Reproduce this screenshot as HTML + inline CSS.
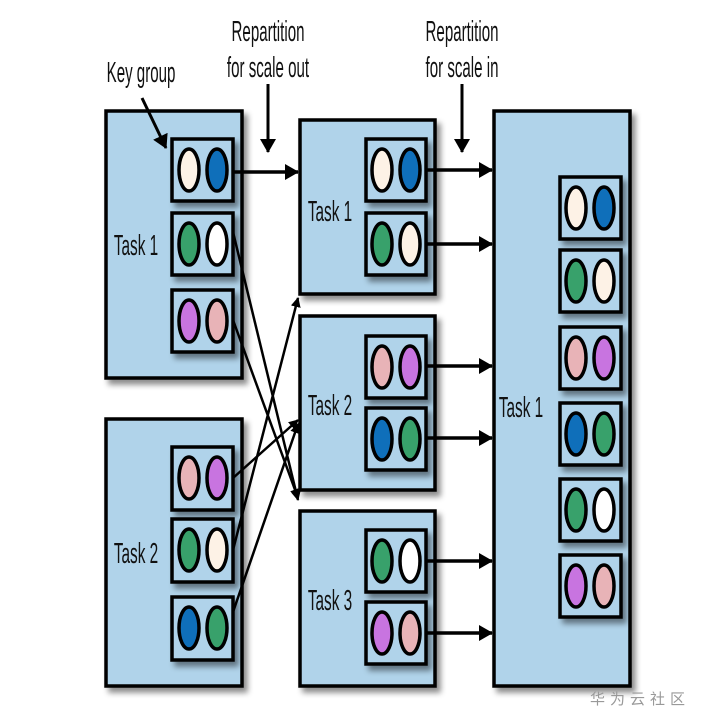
<!DOCTYPE html>
<html><head><meta charset="utf-8"><style>
body{margin:0;background:#fff}
svg{display:block}
text{font-family:"Liberation Sans",sans-serif;fill:#111}
</style></head><body>
<svg width="711" height="723" viewBox="0 0 711 723" xmlns="http://www.w3.org/2000/svg">
<defs>
<filter id="sh" x="-10%" y="-10%" width="130%" height="130%"><feDropShadow dx="4" dy="5" stdDeviation="3" flood-color="#000" flood-opacity="0.45"/></filter>
<marker id="ah" markerWidth="10" markerHeight="10" refX="9" refY="5" orient="auto" markerUnits="userSpaceOnUse" viewBox="0 0 10 10"><path d="M0,0 L10,5 L0,10 z" fill="#000"/></marker>
<marker id="ab" markerWidth="14" markerHeight="16" refX="13" refY="8" orient="auto" markerUnits="userSpaceOnUse" viewBox="0 0 14 16"><path d="M0,0 L14,8 L0,16 z" fill="#000"/></marker>
</defs>
<g fill="#b0d3ea" stroke="#000" stroke-width="3.5" filter="url(#sh)">
<rect x="106" y="111" width="136" height="267"/>
<rect x="106" y="419" width="136" height="267"/>
<rect x="300" y="120" width="135" height="174"/>
<rect x="300" y="316" width="135" height="174"/>
<rect x="300" y="511" width="135" height="175"/>
<rect x="494" y="111" width="136" height="575"/>
</g>
<g stroke="#000" stroke-width="2.5" fill="none">
<line x1="233" y1="232" x2="298" y2="500" marker-end="url(#ah)"/>
<line x1="233" y1="320" x2="298" y2="498" marker-end="url(#ah)"/>
<line x1="233" y1="478" x2="298" y2="420" marker-end="url(#ah)"/>
<line x1="233" y1="550" x2="298" y2="298" marker-end="url(#ah)"/>
<line x1="233" y1="612" x2="298" y2="424" marker-end="url(#ah)"/>
</g>
<g stroke="#000" stroke-width="3.5">
<line x1="233" y1="172" x2="298" y2="172" marker-end="url(#ab)"/>
<line x1="426" y1="170" x2="492" y2="170" marker-end="url(#ab)"/>
<line x1="426" y1="244" x2="492" y2="244" marker-end="url(#ab)"/>
<line x1="426" y1="366" x2="492" y2="366" marker-end="url(#ab)"/>
<line x1="426" y1="438" x2="492" y2="438" marker-end="url(#ab)"/>
<line x1="426" y1="561" x2="492" y2="561" marker-end="url(#ab)"/>
<line x1="426" y1="633" x2="492" y2="633" marker-end="url(#ab)"/>
<line x1="268" y1="84" x2="268" y2="152" marker-end="url(#ab)" stroke-width="3"/>
<line x1="462" y1="84" x2="462" y2="152" marker-end="url(#ab)" stroke-width="3"/>
<line x1="142" y1="98" x2="166" y2="148" marker-end="url(#ab)" stroke-width="3"/>
</g>
<g fill="#b0d3ea" stroke="#000" stroke-width="3.5" filter="url(#sh)">
<rect x="172" y="139" width="61" height="62"/><rect x="172" y="213" width="61" height="62"/><rect x="172" y="290" width="61" height="62"/>
<rect x="172" y="447" width="61" height="63"/><rect x="172" y="519" width="61" height="63"/><rect x="172" y="597" width="61" height="63"/>
<rect x="366" y="139" width="60" height="62"/><rect x="366" y="213" width="60" height="62"/>
<rect x="366" y="336" width="60" height="62"/><rect x="366" y="408" width="60" height="62"/>
<rect x="366" y="530" width="60" height="62"/><rect x="366" y="602" width="60" height="62"/>
<rect x="560" y="177" width="61" height="62"/><rect x="560" y="250" width="61" height="62"/><rect x="560" y="327" width="61" height="62"/>
<rect x="560" y="403" width="61" height="62"/><rect x="560" y="479" width="61" height="62"/><rect x="560" y="555" width="61" height="62"/>
</g>
<g stroke="#000" stroke-width="3.5">
<ellipse cx="189" cy="170" rx="10" ry="21" fill="#fdf2e6"/><ellipse cx="217" cy="170" rx="10" ry="21" fill="#0f6fba"/>
<ellipse cx="189" cy="244" rx="10" ry="21" fill="#38a16b"/><ellipse cx="217" cy="244" rx="10" ry="21" fill="#fff"/>
<ellipse cx="189" cy="321" rx="10" ry="21" fill="#c874e0"/><ellipse cx="217" cy="321" rx="10" ry="21" fill="#e8b3b7"/>
<ellipse cx="189" cy="478" rx="10" ry="21" fill="#e8b3b7"/><ellipse cx="217" cy="478" rx="10" ry="21" fill="#c874e0"/>
<ellipse cx="189" cy="550" rx="10" ry="21" fill="#38a16b"/><ellipse cx="217" cy="550" rx="10" ry="21" fill="#fdf2e6"/>
<ellipse cx="189" cy="628" rx="10" ry="21" fill="#0f6fba"/><ellipse cx="217" cy="628" rx="10" ry="21" fill="#38a16b"/>
<ellipse cx="382" cy="170" rx="10" ry="21" fill="#fdf2e6"/><ellipse cx="410" cy="170" rx="10" ry="21" fill="#0f6fba"/>
<ellipse cx="382" cy="244" rx="10" ry="21" fill="#38a16b"/><ellipse cx="410" cy="244" rx="10" ry="21" fill="#fdf2e6"/>
<ellipse cx="382" cy="367" rx="10" ry="21" fill="#e8b3b7"/><ellipse cx="410" cy="367" rx="10" ry="21" fill="#c874e0"/>
<ellipse cx="382" cy="439" rx="10" ry="21" fill="#0f6fba"/><ellipse cx="410" cy="439" rx="10" ry="21" fill="#38a16b"/>
<ellipse cx="382" cy="561" rx="10" ry="21" fill="#38a16b"/><ellipse cx="410" cy="561" rx="10" ry="21" fill="#fff"/>
<ellipse cx="382" cy="633" rx="10" ry="21" fill="#c874e0"/><ellipse cx="410" cy="633" rx="10" ry="21" fill="#e8b3b7"/>
<ellipse cx="576" cy="208" rx="10" ry="21" fill="#fdf2e6"/><ellipse cx="604" cy="208" rx="10" ry="21" fill="#0f6fba"/>
<ellipse cx="576" cy="281" rx="10" ry="21" fill="#38a16b"/><ellipse cx="604" cy="281" rx="10" ry="21" fill="#fdf2e6"/>
<ellipse cx="576" cy="358" rx="10" ry="21" fill="#e8b3b7"/><ellipse cx="604" cy="358" rx="10" ry="21" fill="#c874e0"/>
<ellipse cx="576" cy="434" rx="10" ry="21" fill="#0f6fba"/><ellipse cx="604" cy="434" rx="10" ry="21" fill="#38a16b"/>
<ellipse cx="576" cy="510" rx="10" ry="21" fill="#38a16b"/><ellipse cx="604" cy="510" rx="10" ry="21" fill="#fff"/>
<ellipse cx="576" cy="586" rx="10" ry="21" fill="#c874e0"/><ellipse cx="604" cy="586" rx="10" ry="21" fill="#e8b3b7"/>
</g>
<g font-size="29" text-anchor="middle">
<text transform="translate(136,255) scale(0.53,1)">Task 1</text>
<text transform="translate(136,563) scale(0.53,1)">Task 2</text>
<text transform="translate(330,221) scale(0.53,1)">Task 1</text>
<text transform="translate(330,415) scale(0.53,1)">Task 2</text>
<text transform="translate(330,610) scale(0.53,1)">Task 3</text>
<text transform="translate(521,417) scale(0.53,1)">Task 1</text>
<text transform="translate(141,82) scale(0.52,1)">Key group</text>
<text transform="translate(268,41) scale(0.52,1)">Repartition</text>
<text transform="translate(268,77) scale(0.52,1)">for scale out</text>
<text transform="translate(462,41) scale(0.52,1)">Repartition</text>
<text transform="translate(462,77) scale(0.52,1)">for scale in</text>
</g>
<text x="590" y="704" font-size="15" letter-spacing="5" style="font-family:'Noto Sans CJK SC',sans-serif;fill:#999">华为云社区</text>
</svg>
</body></html>
